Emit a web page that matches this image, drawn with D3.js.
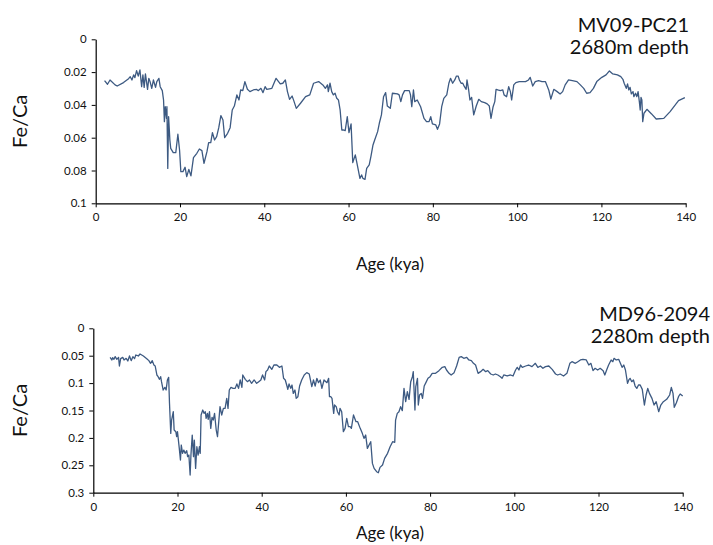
<!DOCTYPE html>
<html>
<head>
<meta charset="utf-8">
<script src="https://cdn.jsdelivr.net/npm/d3@7"></script>
<style>
  body { margin: 0; background: #fff; }
  text { font-family: "Gill Sans", "Gill Sans MT", Lato, sans-serif; fill: #111; }
  .axis path, .axis line { stroke: #000; }
</style>
</head>
<body>
<div id="graphic"></div>
<script>
// Fe/Ca records, [age kya, Fe/Ca]
let pc21 = [
  [2.1,0.0252],[2.8,0.0274],[3.4,0.0248],[4.6,0.0278],[5.1,0.0285],[6.6,0.0264],[7.8,0.0240],[8.2,0.0228],
  [8.6,0.0248],[9.0,0.0217],[9.3,0.0234],[9.7,0.0191],[10.1,0.0224],[10.5,0.0187],[10.9,0.0289],[11.2,0.0217],
  [11.5,0.0293],[11.8,0.0211],[12.3,0.0305],[12.6,0.0238],[12.9,0.0258],[13.3,0.0299],[13.7,0.0248],[14.2,0.0293],
  [14.5,0.0258],[15.0,0.0238],[15.3,0.0289],[15.8,0.0313],[16.1,0.0370],[16.3,0.0502],[16.5,0.0411],[16.8,0.0482],
  [16.9,0.0411],[17.1,0.0787],[17.3,0.0472],[17.6,0.0614],[17.8,0.0665],[18.4,0.0691],[19.0,0.0691],[19.5,0.0579],
  [19.9,0.0675],[20.2,0.0807],[20.7,0.0807],[21.2,0.0780],[21.6,0.0837],[22.1,0.0793],[22.6,0.0833],[23.2,0.0722],
  [24.0,0.0695],[24.6,0.0669],[25.2,0.0679],[25.7,0.0756],[26.4,0.0685],[26.8,0.0630],[27.3,0.0630],[27.7,0.0569],
  [28.2,0.0614],[28.7,0.0593],[29.2,0.0539],[29.7,0.0465],[30.2,0.0492],[30.6,0.0600],[31.3,0.0573],[31.9,0.0539],
  [32.4,0.0431],[32.9,0.0407],[33.5,0.0339],[34.0,0.0370],[34.4,0.0309],[34.9,0.0313],[35.4,0.0258],[36.0,0.0305],
  [36.6,0.0319],[37.4,0.0309],[38.1,0.0305],[38.6,0.0313],[39.2,0.0299],[39.7,0.0325],[40.2,0.0289],[40.6,0.0305],
  [41.8,0.0299],[42.8,0.0238],[43.8,0.0272],[44.4,0.0268],[45.0,0.0248],[45.5,0.0319],[46.0,0.0366],[46.6,0.0346],
  [47.0,0.0374],[47.6,0.0421],[48.6,0.0390],[49.8,0.0350],[50.8,0.0339],[51.7,0.0268],[52.9,0.0258],[53.9,0.0278],
  [54.5,0.0299],[55.0,0.0278],[55.2,0.0319],[55.6,0.0268],[56.0,0.0319],[56.4,0.0339],[56.8,0.0329],[57.2,0.0360],
  [57.6,0.0370],[58.0,0.0431],[58.4,0.0553],[58.8,0.0553],[59.2,0.0557],[59.7,0.0472],[60.1,0.0569],[60.6,0.0516],
  [61.0,0.0752],[61.6,0.0705],[62.0,0.0756],[62.7,0.0848],[63.1,0.0827],[63.4,0.0848],[63.9,0.0854],[64.3,0.0787],
  [64.9,0.0766],[65.3,0.0715],[65.8,0.0644],[66.2,0.0614],[66.9,0.0563],[67.3,0.0512],[67.8,0.0461],[68.3,0.0350],
  [68.8,0.0325],[69.2,0.0407],[69.9,0.0421],[70.4,0.0329],[71.6,0.0333],[72.0,0.0339],[72.4,0.0380],[72.8,0.0339],
  [73.3,0.0313],[74.4,0.0313],[74.7,0.0339],[75.0,0.0411],[75.4,0.0309],[75.7,0.0380],[76.3,0.0370],[77.1,0.0411],
  [77.9,0.0482],[78.5,0.0502],[79.1,0.0502],[79.5,0.0472],[79.9,0.0516],[80.7,0.0522],[81.1,0.0549],[81.6,0.0516],
  [82.1,0.0411],[82.6,0.0360],[83.3,0.0339],[83.8,0.0268],[84.2,0.0238],[84.7,0.0268],[85.2,0.0248],[85.6,0.0224],
  [86.0,0.0224],[86.3,0.0248],[86.7,0.0268],[87.1,0.0268],[87.5,0.0289],[87.9,0.0305],[88.1,0.0248],[88.5,0.0309],
  [88.8,0.0370],[89.2,0.0354],[89.7,0.0461],[90.3,0.0407],[90.9,0.0366],[91.5,0.0380],[92.3,0.0386],[92.9,0.0394],
  [93.4,0.0407],[93.8,0.0482],[94.3,0.0411],[94.7,0.0380],[95.0,0.0305],[95.4,0.0309],[96.0,0.0313],[96.6,0.0309],
  [96.9,0.0339],[97.5,0.0350],[98.0,0.0289],[98.4,0.0319],[98.7,0.0370],[99.2,0.0278],[99.7,0.0264],[100.5,0.0258],
  [102.0,0.0258],[102.7,0.0248],[103.1,0.0232],[103.7,0.0285],[104.3,0.0258],[105.1,0.0252],[105.9,0.0258],[106.7,0.0258],
  [107.5,0.0309],[108.0,0.0364],[108.7,0.0305],[109.5,0.0319],[110.2,0.0333],[110.8,0.0319],[111.4,0.0278],[112.2,0.0248],
  [113.4,0.0254],[114.2,0.0258],[115.0,0.0278],[115.8,0.0299],[116.5,0.0329],[117.3,0.0325],[118.1,0.0299],[118.9,0.0258],
  [120.1,0.0232],[121.1,0.0217],[121.9,0.0193],[122.7,0.0211],[123.8,0.0217],[124.6,0.0228],[125.1,0.0244],[125.4,0.0268],
  [125.9,0.0299],[126.2,0.0272],[126.5,0.0309],[126.8,0.0293],[127.1,0.0333],[127.5,0.0319],[127.7,0.0350],[128.1,0.0329],
  [128.4,0.0350],[128.7,0.0319],[129.0,0.0380],[129.2,0.0431],[129.4,0.0354],[129.6,0.0370],[129.8,0.0502],[130.1,0.0451],
  [130.8,0.0427],[131.9,0.0455],[133.0,0.0486],[134.8,0.0482],[136.3,0.0441],[138.3,0.0374],[139.8,0.0356]
];

let md96 = [
  [4.0,0.0530],[4.4,0.0578],[4.6,0.0536],[4.9,0.0566],[5.2,0.0517],[5.6,0.0566],[6.0,0.0530],[6.2,0.0688],
  [6.5,0.0554],[7.0,0.0530],[7.3,0.0578],[7.8,0.0548],[8.2,0.0596],[8.6,0.0505],[9.0,0.0590],[9.4,0.0517],
  [9.8,0.0554],[10.1,0.0487],[10.7,0.0505],[11.1,0.0469],[11.9,0.0505],[12.7,0.0554],[13.2,0.0590],[13.6,0.0639],
  [14.0,0.0590],[14.4,0.0670],[14.7,0.0688],[15.1,0.0852],[15.4,0.0883],[15.7,0.0931],[16.0,0.0883],[16.2,0.0974],
  [16.6,0.1126],[17.0,0.1077],[17.3,0.1126],[17.6,0.0943],[17.9,0.0895],[18.1,0.1369],[18.4,0.1917],[18.6,0.1674],
  [19.0,0.1522],[19.2,0.1856],[19.6,0.1887],[19.8,0.1978],[20.0,0.1887],[20.4,0.2173],[20.7,0.2404],[20.9,0.2130],
  [21.2,0.2282],[21.5,0.2222],[21.8,0.2282],[22.2,0.2234],[22.4,0.2343],[22.7,0.2313],[23.0,0.2678],[23.2,0.2301],
  [23.5,0.1948],[23.8,0.2343],[24.0,0.2039],[24.3,0.2556],[24.6,0.2161],[24.9,0.2313],[25.2,0.2161],[25.4,0.2282],
  [25.6,0.1582],[26.0,0.1491],[26.3,0.1552],[26.6,0.1522],[26.8,0.1643],[27.1,0.1552],[27.3,0.1662],[27.6,0.1522],
  [27.9,0.1826],[28.2,0.1625],[28.5,0.1674],[28.8,0.1552],[29.2,0.1856],[29.5,0.1978],[29.8,0.1704],[30.1,0.1430],
  [30.5,0.1582],[30.9,0.1461],[31.3,0.1461],[31.7,0.1278],[32.0,0.1461],[32.3,0.1126],[32.7,0.1077],[33.2,0.1096],
  [33.7,0.1096],[34.1,0.1016],[34.5,0.1096],[34.9,0.0943],[35.3,0.1077],[35.5,0.0852],[36.1,0.0931],[36.6,0.0974],
  [37.1,0.0943],[37.6,0.1004],[38.2,0.0943],[38.8,0.1004],[39.3,0.0974],[39.8,0.0943],[40.2,0.0852],[40.7,0.0943],
  [41.0,0.0791],[41.4,0.0761],[41.8,0.0688],[42.4,0.0749],[42.9,0.0670],[43.6,0.0670],[44.2,0.0712],[44.8,0.0688],
  [45.2,0.0913],[45.6,0.0943],[46.0,0.1053],[46.2,0.1114],[46.5,0.1016],[46.9,0.1096],[47.2,0.1035],[47.5,0.1187],
  [47.9,0.1126],[48.2,0.1278],[48.6,0.1248],[49.0,0.1053],[49.5,0.0943],[50.1,0.0852],[50.7,0.0809],[51.3,0.0834],
  [51.9,0.1065],[52.3,0.0943],[52.7,0.1053],[53.1,0.0913],[53.5,0.0992],[53.9,0.0943],[54.3,0.1096],[54.8,0.0943],
  [55.5,0.0992],[55.9,0.0913],[56.1,0.1248],[56.4,0.1248],[56.7,0.1278],[57.1,0.1552],[57.3,0.1400],[57.7,0.1430],
  [58.0,0.1522],[58.4,0.1582],[58.6,0.1461],[59.0,0.1522],[59.4,0.1887],[59.8,0.1826],[60.2,0.1643],[60.6,0.1795],
  [61.0,0.1795],[61.3,0.1826],[61.8,0.1582],[62.4,0.1704],[62.8,0.1704],[63.4,0.1826],[63.9,0.1917],[64.3,0.2009],
  [64.7,0.1948],[65.1,0.2191],[65.5,0.2130],[65.9,0.2069],[66.3,0.2465],[66.7,0.2556],[67.3,0.2617],[67.7,0.2635],
  [68.1,0.2538],[68.7,0.2495],[69.2,0.2374],[69.9,0.2282],[70.5,0.2161],[71.1,0.2069],[71.6,0.2082],[71.8,0.1674],
  [72.2,0.1552],[72.6,0.1522],[73.0,0.1430],[73.4,0.1503],[73.8,0.1096],[74.2,0.1339],[74.6,0.1156],[75.0,0.1296],
  [75.4,0.0974],[75.8,0.0883],[76.0,0.0791],[76.4,0.1491],[76.6,0.1065],[77.0,0.0913],[77.2,0.1400],[77.5,0.1217],
  [77.9,0.1187],[78.2,0.1278],[78.6,0.1053],[79.0,0.0992],[79.5,0.0913],[80.0,0.0883],[80.5,0.0822],[81.3,0.0822],
  [82.1,0.0773],[82.9,0.0712],[83.5,0.0700],[83.9,0.0761],[84.5,0.0822],[85.0,0.0852],[85.7,0.0809],[86.3,0.0688],
  [86.9,0.0530],[87.4,0.0517],[88.0,0.0548],[88.7,0.0530],[89.2,0.0578],[89.8,0.0590],[90.3,0.0639],[90.8,0.0670],
  [91.4,0.0822],[92.0,0.0791],[92.6,0.0749],[93.2,0.0791],[93.7,0.0773],[94.4,0.0834],[95.0,0.0852],[95.5,0.0834],
  [96.1,0.0852],[96.7,0.0883],[97.1,0.0913],[97.5,0.0852],[98.3,0.0870],[99.1,0.0852],[99.7,0.0870],[100.3,0.0761],
  [100.7,0.0712],[101.1,0.0761],[101.5,0.0670],[101.9,0.0712],[102.7,0.0688],[103.4,0.0670],[104.2,0.0700],[105.0,0.0639],
  [105.6,0.0712],[106.2,0.0688],[106.8,0.0730],[107.4,0.0700],[108.2,0.0688],[109.0,0.0749],[109.8,0.0834],[110.3,0.0852],
  [110.9,0.0834],[111.7,0.0870],[112.5,0.0822],[113.2,0.0639],[113.7,0.0609],[114.5,0.0639],[115.1,0.0609],[115.7,0.0578],
  [116.3,0.0566],[117.1,0.0578],[117.7,0.0670],[118.2,0.0639],[118.7,0.0773],[119.2,0.0730],[119.8,0.0761],[120.4,0.0730],
  [121.1,0.0773],[121.5,0.0852],[122.0,0.0749],[122.4,0.0670],[123.0,0.0578],[123.4,0.0609],[123.7,0.0548],[124.2,0.0578],
  [124.8,0.0566],[125.2,0.0639],[125.6,0.0712],[126.0,0.0670],[126.4,0.0761],[126.9,0.1004],[127.2,0.0943],[127.5,0.0913],
  [127.9,0.0974],[128.3,0.0943],[128.7,0.1053],[129.1,0.1096],[129.5,0.1035],[129.9,0.1035],[130.4,0.1114],[130.9,0.1400],
  [131.3,0.1217],[131.7,0.1096],[132.1,0.1187],[132.7,0.1278],[133.2,0.1400],[133.7,0.1339],[134.3,0.1522],[134.8,0.1400],
  [135.4,0.1339],[136.2,0.1296],[136.9,0.1217],[137.3,0.1077],[137.7,0.1187],[138.0,0.1442],[138.5,0.1357],[139.0,0.1248],
  [139.4,0.1199],[140.0,0.1236]
];

let ageTicks = [0, 20, 40, 60, 80, 100, 120, 140];
let feTicksTop = [0, 0.02, 0.04, 0.06, 0.08, 0.1];
let feTicksBottom = [0, 0.05, 0.1, 0.15, 0.2, 0.25, 0.3];
let titlesTop = ["MV09-PC21", "2680m depth"];
let titlesBottom = ["MD96-2094", "2280m depth"];

let svg = d3.select("#graphic")
  .append("svg")
    .attr("width", 713)
    .attr("height", 545);

function drawPanel(data, feTicks, titles, box) {
    let x = d3.scaleLinear()
        .domain([0, 140])
        .range([box.left, box.right]);
    let y = d3.scaleLinear()
        .domain([0, feTicks[feTicks.length - 1]])
        .range([box.top, box.bottom]);   // inverted: 0 at top

    // X axis
    svg.append("g")
        .attr("class", "axis")
        .attr("transform", "translate(0," + box.bottom + ")")
        .call(d3.axisBottom(x).tickValues(ageTicks).tickSize(4).tickSizeOuter(0).tickPadding(6))
        .selectAll("text")
            .style("font-size", "11.5px");

    // Y axis
    svg.append("g")
        .attr("class", "axis")
        .attr("transform", "translate(" + box.left + ",0)")
        .call(d3.axisLeft(y).tickValues(feTicks).tickFormat(d => String(d)).tickSize(4).tickSizeOuter(0).tickPadding(5))
        .selectAll("text")
            .style("font-size", "11.5px");

    svg.selectAll(".domain").attr("stroke-width", 1.2);

    // line
    svg.append("path")
        .datum(data)
        .attr("fill", "none")
        .attr("stroke", "#3d5a82")
        .attr("stroke-width", 1.3)
        .attr("stroke-linejoin", "round")
        .attr("d", d3.line().x(d => x(d[0])).y(d => y(d[1])));

    // axis titles
    svg.append("text")
        .attr("transform", "translate(" + 27 + "," + (box.top + box.bottom) / 2 + ")rotate(-90)")
        .attr("text-anchor", "middle")
        .style("font-size", "20px")
        .text("Fe/Ca");

    svg.append("text")
        .attr("x", 390)
        .attr("y", box.ageY)
        .attr("text-anchor", "middle")
        .style("font-size", "17px")
        .text("Age (kya)");

    // core name + depth
    svg.append("text")
        .attr("x", box.titleX)
        .attr("y", box.top - 7)
        .attr("text-anchor", "end")
        .style("font-size", "20px")
        .text(titles[0]);
    svg.append("text")
        .attr("x", box.titleX)
        .attr("y", box.top + 15)
        .attr("text-anchor", "end")
        .style("font-size", "20px")
        .text(titles[1]);
}

drawPanel(pc21, feTicksTop, titlesTop, {left: 95.7, right: 685.7, top: 39.3, bottom: 203.3, titleX: 689, ageY: 270});
drawPanel(md96, feTicksBottom, titlesBottom, {left: 93.3, right: 682.7, top: 328.3, bottom: 492.7, titleX: 710, ageY: 539});
</script>
</body>
</html>
